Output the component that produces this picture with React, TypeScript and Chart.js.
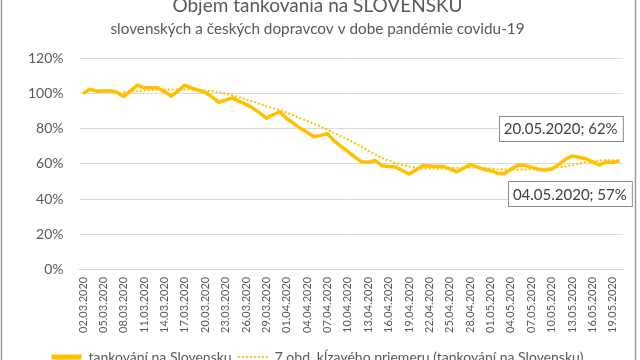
import React, { useEffect, useRef } from "react";
import { Chart, registerables } from "chart.js";

Chart.register(...registerables);

// Categories: daily dates 02.03.2020 – 20.05.2020
const marchDays = Array.from({ length: 30 }, (_, k) => k + 2);
const aprilDays = Array.from({ length: 30 }, (_, k) => k + 1);
const mayDays = Array.from({ length: 20 }, (_, k) => k + 1);
const pad2 = (n: number) => (n < 10 ? "0" + n : String(n));
const dates: string[] = [
  ...marchDays.map((d) => `${pad2(d)}.03.2020`),
  ...aprilDays.map((d) => `${pad2(d)}.04.2020`),
  ...mayDays.map((d) => `${pad2(d)}.05.2020`),
];

// Series values (% of baseline)
const tankovanie: number[] = [
  100, 102.4, 101.3, 101.4, 101.5, 100.7, 98.3, 101.5, 104.7, 103.2,
  103.2, 103.2, 101, 98.5, 101.5, 104.7, 103, 101.8, 100.7, 98,
  95, 96.2, 97.5, 95.5, 93.8, 91.7, 89, 86, 88, 89.5,
  85.8, 83, 80.2, 78, 75.4, 76.2, 77.2, 73, 70, 67,
  64, 61.2, 61, 62, 59, 58.6, 58.3, 56.3, 54.3, 56.5,
  59, 58.8, 58.6, 58.7, 57.2, 55.6, 57.6, 59.6, 58.3, 57,
  56.2, 54.8, 54.5, 57, 59.2, 59.2, 58.2, 57, 56.6, 57,
  59.6, 62.5, 64.6, 63.8, 63, 61.2, 59.4, 61, 61, 61.8,
];

// 7-period moving average trendline (Excel "7 obd. kĺzavého priemeru")
const trendPeriod = 7;
const trend: (number | null)[] = tankovanie.map((_, i) =>
  i < trendPeriod - 1
    ? null
    : tankovanie.slice(i - trendPeriod + 1, i + 1).reduce((a, b) => a + b, 0) / trendPeriod
);

const yTicks: number[] = [0, 20, 40, 60, 80, 100, 120];

const titleText = "Objem tankovania na SLOVENSKU";
const subtitleText = "slovenských a českých dopravcov v dobe pandémie covidu-19";
const seriesName = "tankování na Slovensku";
const trendName = "7 obd. kĺzavého priemeru (tankování na Slovensku)";

const annotations = [
  { index: 79, text: "20.05.2020; 62%", place: "above-left" },
  { index: 63, text: "04.05.2020; 57%", place: "below-right" },
];

const GOLD = "#FFC000";
const TEXT = "#595959";
const FONT = "Lato";
const CANVAS_H = 390;

export default function App() {
  const ref = useRef<HTMLCanvasElement | null>(null);

  useEffect(() => {
    document.body.style.margin = "0";
    const canvas = ref.current;
    if (!canvas) return;

    const framePlugin = {
      id: "frame",
      afterDraw(chart: any) {
        const ctx = chart.ctx;
        ctx.save();
        ctx.strokeStyle = "#9a9a9a";
        ctx.lineWidth = 1.5;
        ctx.beginPath();
        ctx.moveTo(1.5, 0);
        ctx.lineTo(1.5, chart.height);
        ctx.moveTo(635.5, 0);
        ctx.lineTo(635.5, chart.height);
        ctx.stroke();
        ctx.restore();
      },
    };

    const labelPlugin = {
      id: "boxLabels",
      afterDatasetsDraw(chart: any) {
        const ctx = chart.ctx;
        const xs = chart.scales.x;
        const ys = chart.scales.y;
        ctx.save();
        ctx.font = `15px ${FONT}`;
        ctx.textBaseline = "middle";
        annotations.forEach((a) => {
          const px = xs.getPixelForValue(a.index);
          const py = ys.getPixelForValue(tankovanie[a.index]);
          const tw = ctx.measureText(a.text).width;
          const w = tw + 10;
          const h = 25;
          let bx: number, by: number;
          if (a.place === "above-left") {
            bx = px + 3 - w;
            by = py - 20 - h;
          } else {
            bx = px - 3;
            by = py + 12;
          }
          ctx.fillStyle = "#ffffff";
          ctx.fillRect(bx, by, w, h);
          ctx.strokeStyle = "#8c8c8c";
          ctx.lineWidth = 1;
          ctx.strokeRect(Math.round(bx) + 0.5, Math.round(by) + 0.5, w, h);
          ctx.fillStyle = "#404040";
          ctx.textAlign = "left";
          ctx.fillText(a.text, bx + 5, by + h / 2 + 1);
        });
        ctx.restore();
      },
    };

    const chart = new Chart(canvas, {
      type: "line",
      data: {
        labels: dates,
        datasets: [
          {
            label: trendName,
            data: trend,
            borderColor: GOLD,
            borderWidth: 2,
            borderDash: [2, 2],
            pointRadius: 0,
            fill: false,
            tension: 0,
            order: 2,
          },
          {
            label: seriesName,
            data: tankovanie,
            borderColor: GOLD,
            borderWidth: 3.5,
            pointRadius: 0,
            fill: false,
            tension: 0,
            borderJoinStyle: "round",
            order: 1,
          },
        ],
      },
      options: {
        responsive: false,
        animation: false,
        layout: { padding: { left: 12, right: 17, top: 0, bottom: 4 } },
        plugins: {
          title: {
            display: true,
            text: titleText,
            color: TEXT,
            font: { family: FONT, size: 19, weight: "normal" },
            padding: { top: 6, bottom: 3 },
          },
          subtitle: {
            display: true,
            text: subtitleText,
            color: TEXT,
            font: { family: FONT, size: 15.3, weight: "normal" },
            padding: { top: 0, bottom: 20 },
          },
          legend: {
            display: true,
            position: "bottom",
            labels: {
              color: TEXT,
              font: { family: FONT, size: 14 },
              usePointStyle: true,
              pointStyleWidth: 30,
              padding: 6,
              generateLabels: () => [
                {
                  text: seriesName,
                  fillStyle: GOLD,
                  strokeStyle: GOLD,
                  lineWidth: 5,
                  lineDash: [],
                  pointStyle: "line",
                  hidden: false,
                  datasetIndex: 1,
                  fontColor: TEXT,
                },
                {
                  text: trendName,
                  fillStyle: GOLD,
                  strokeStyle: GOLD,
                  lineWidth: 2,
                  lineDash: [2, 2],
                  pointStyle: "line",
                  hidden: false,
                  datasetIndex: 0,
                  fontColor: TEXT,
                },
              ],
            },
          },
          tooltip: { enabled: false },
        },
        scales: {
          x: {
            type: "category",
            offset: true,
            grid: { display: false, drawTicks: false },
            border: { display: true, color: "#d0d0d0", width: 1 },
            afterFit: (axis: any) => {
              axis.height += 4;
            },
            ticks: {
              autoSkip: false,
              minRotation: 90,
              maxRotation: 90,
              color: TEXT,
              font: { family: FONT, size: 11 },
              padding: 7,
              callback: (_v: any, idx: number) => (idx % 3 === 0 ? dates[idx] : ""),
            },
          },
          y: {
            min: 0,
            max: 120,
            afterBuildTicks: (axis: any) => {
              axis.ticks = yTicks.map((v) => ({ value: v }));
            },
            grid: { color: "#d9d9d9", lineWidth: 1, drawTicks: false },
            border: { display: false },
            ticks: {
              color: TEXT,
              font: { family: FONT, size: 14 },
              padding: 16,
              callback: (v: any) => `${v}%`,
            },
          },
        },
      },
      plugins: [framePlugin, labelPlugin],
    } as any);

    return () => chart.destroy();
  }, []);

  return (
    <div style={{ position: "absolute", top: -12, left: 0, width: 640, height: CANVAS_H, overflow: "hidden" }}>
      <canvas ref={ref} width={640} height={CANVAS_H} style={{ display: "block", width: 640, height: CANVAS_H }} />
    </div>
  );
}
